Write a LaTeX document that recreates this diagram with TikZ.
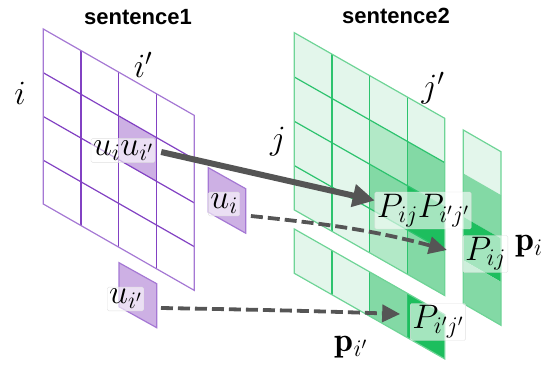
\RequirePackage{fix-cm}
\documentclass[tikz,border=0pt]{standalone}
\usepackage{fontspec}
\newfontfamily\headfont{Liberation Sans}
\usetikzlibrary{arrows.meta}
\definecolor{gA}{RGB}{227,246,235}
\definecolor{gB}{RGB}{178,233,199}
\definecolor{gC}{RGB}{131,217,165}
\definecolor{gD}{RGB}{29,190,94}
\definecolor{gLine}{RGB}{45,195,110}
\definecolor{gEdge}{RGB}{110,212,150}
\definecolor{pFill}{RGB}{205,176,228}
\definecolor{pLine}{RGB}{130,65,195}
\definecolor{pEdge}{RGB}{165,120,212}
\definecolor{arr}{RGB}{85,85,85}
\tikzset{
  lbl/.style={fill=white, fill opacity=0.6, text opacity=1, draw=black!12, rounded corners=1.5pt, inner sep=2pt, font=\fontsize{34}{36}\selectfont},
  mlabel/.style={inner sep=0pt, font=\fontsize{34}{36}\selectfont},
  head/.style={font=\headfont\bfseries\fontsize{22}{24}\selectfont, inner sep=0pt},
  solidarr/.style={draw=arr, line width=6pt, -{Triangle[length=22pt,width=22pt]}},
  dasharr/.style={draw=arr, line width=3.8pt, dash pattern=on 12pt off 5pt, -{Triangle[length=18pt,width=17pt]}},
  cellpath/.style={line width=1.2pt},
}
\newcommand{\pcell}[3]{\fill[#3] (#1,#2) -- (#1+1,#2) -- (#1+1,#2+1) -- (#1,#2+1) -- cycle;}
\begin{document}
\begin{tikzpicture}[x=1pt,y=-1pt]
\useasboundingbox (0,0) rectangle (552,365);

% ---------- left grid (sentence1) ----------
\begin{scope}[shift={(43.3,29)}, x={(37.75pt,-21.6pt)}, y={(0pt,-43.75pt)}]
  \fill[white] (0,0) -- (4,0) -- (4,4) -- (0,4) -- cycle;
  \pcell{2}{1}{pFill}
  \foreach \k in {1,2,3} {
    \draw[pLine, cellpath] (0,\k) -- (4,\k);
    \draw[pLine, cellpath] (\k,0) -- (\k,4);
  }
  \draw[pEdge, cellpath] (0,0) -- (4,0) -- (4,4) -- (0,4) -- cycle;
\end{scope}

% small piece u_i
\begin{scope}[shift={(208.3,167.7)}, x={(37.4pt,-21pt)}, y={(0pt,-44.5pt)}]
  \fill[pFill] (0,0) -- (1,0) -- (1,1) -- (0,1) -- cycle;
  \draw[pEdge, cellpath] (0,0) -- (1,0) -- (1,1) -- (0,1) -- cycle;
\end{scope}
% small piece u_i'
\begin{scope}[shift={(119,262.7)}, x={(37.7pt,-21pt)}, y={(0pt,-44pt)}]
  \fill[pFill] (0,0) -- (1,0) -- (1,1) -- (0,1) -- cycle;
  \draw[pEdge, cellpath] (0,0) -- (1,0) -- (1,1) -- (0,1) -- cycle;
\end{scope}

% ---------- right grid (sentence2) ----------
\begin{scope}[shift={(294.3,32.7)}, x={(37.6pt,-21.4pt)}, y={(0pt,-44.3pt)}]
  \fill[gA] (0,0) -- (4,0) -- (4,4) -- (0,4) -- cycle;
  \foreach \c/\r/\col in {2/1/gB, 3/1/gC, 2/2/gC, 3/2/gD, 2/3/gB, 3/3/gC} {
    \pcell{\c}{\r}{\col}
  }
  \foreach \k in {1,2,3} {
    \draw[gLine, cellpath] (0,\k) -- (4,\k);
    \draw[gLine, cellpath] (\k,0) -- (\k,4);
  }
  \draw[gEdge, cellpath] (0,0) -- (4,0) -- (4,4) -- (0,4) -- cycle;
\end{scope}

% strip p_i'
\begin{scope}[shift={(294.3,229)}, x={(37.6pt,-21.4pt)}, y={(0pt,-44.3pt)}]
  \foreach \c/\col in {0/gA, 1/gA, 2/gC, 3/gD} {
    \pcell{\c}{0}{\col}
  }
  \foreach \k in {1,2,3} {
    \draw[gLine, cellpath] (\k,0) -- (\k,1);
  }
  \draw[gEdge, cellpath] (0,0) -- (4,0) -- (4,1) -- (0,1) -- cycle;
\end{scope}

% strip p_i
\begin{scope}[shift={(463.3,130)}, x={(37.7pt,-21.7pt)}, y={(0pt,-43.4pt)}]
  \foreach \r/\col in {0/gA, 1/gC, 2/gD, 3/gC} {
    \pcell{0}{\r}{\col}
  }
  \draw[gEdge, cellpath] (0,0) -- (1,0) -- (1,4) -- (0,4) -- cycle;
\end{scope}

% ---------- headings and index labels ----------
\node[head] (s1) at (138,17) {sentence1};
\node[head] (s2) at (396,16) {sentence2};
\node[mlabel] (li) at (20,93) {$i$};
\node[mlabel] (lip) at (143,65) {$i'$};
\node[mlabel] (lj) at (278,142) {$j$};
\node[mlabel] (ljp) at (433,88) {$j'$};
\node[mlabel] (bpi) at (529,246) {$\mathbf{p}_i$};
\node[mlabel] (bpip) at (351,347) {$\mathbf{p}_{i'}$};

% ---------- boxed labels ----------
\node[lbl] (uu) at (123,150.5) {$u_iu_{i'}$};
\node[lbl] (ui) at (224,204) {$u_i$};
\node[lbl] (uip) at (125.5,299) {$u_{i'}$};
\node[lbl] (pp) at (423,210.5) {$P_{ij}P_{i'j'}$};
\node[lbl] (pij) at (485.5,254) {$P_{ij}$};
\node[lbl] (pipjp) at (438,322) {$P_{i'j'}$};

% ---------- connectors ----------
\draw[solidarr] ([xshift=6pt,yshift=-1.5pt]uu.east) -- ([yshift=10pt]pp.west);
\draw[dasharr] ([xshift=11pt,yshift=-12pt]ui.east) to[out=-6,in=165] ([xshift=-16pt,yshift=4pt]pij.west);
\draw[dasharr] ([xshift=17pt,yshift=-9pt]uip.east) to[out=-1,in=178] ([xshift=-10pt,yshift=8pt]pipjp.west);
\end{tikzpicture}
\end{document}
